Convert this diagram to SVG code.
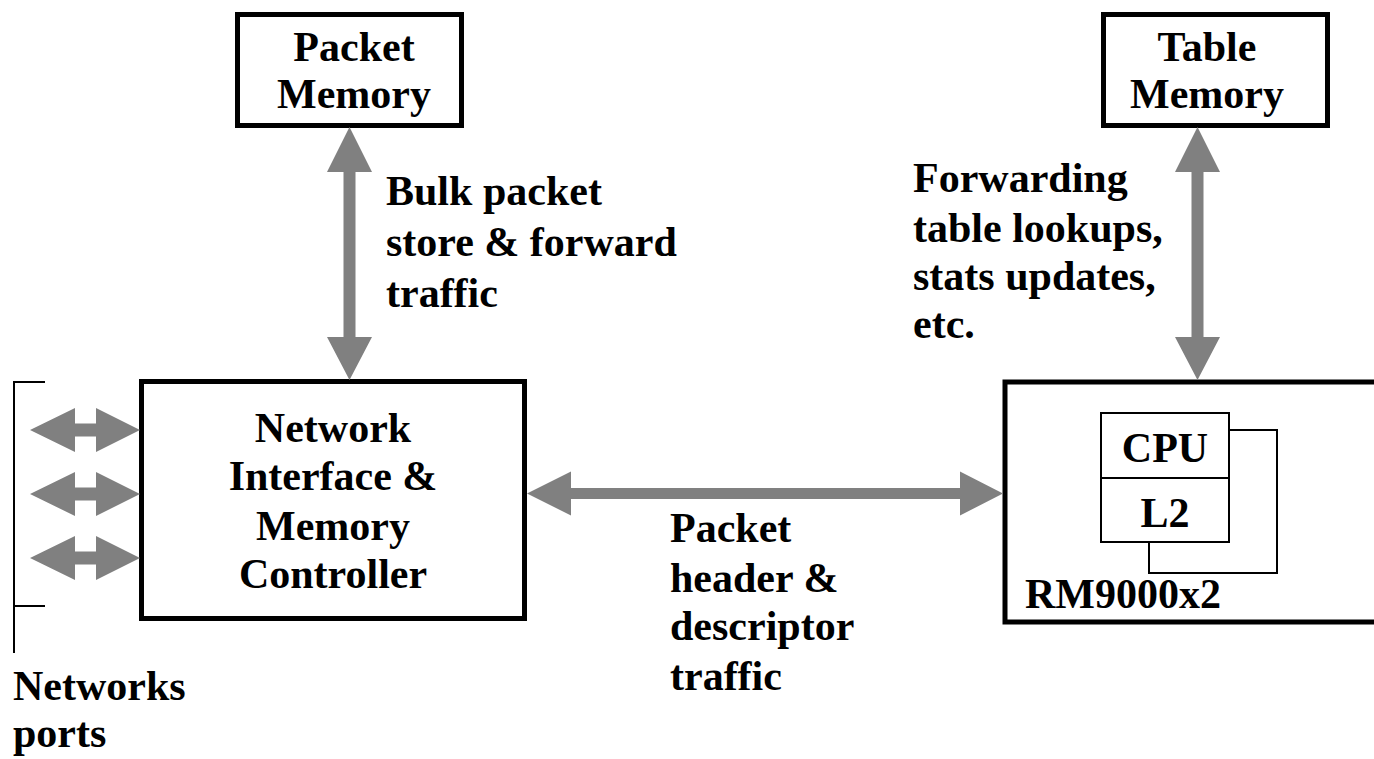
<svg xmlns="http://www.w3.org/2000/svg" width="1374" height="759" viewBox="0 0 1374 759">
<style>
.box{fill:#fff;stroke:#000;stroke-width:5}
.thin{fill:none;stroke:#000;stroke-width:2}
.arr{fill:#808080;stroke:none}
text{font-family:"Liberation Serif","Times New Roman",serif;font-weight:bold;font-size:42px;fill:#000}
.c{text-anchor:middle}
</style>
<rect width="1374" height="759" fill="#fff"/>
<g id="packet-memory">
<rect class="box" x="237.5" y="14.5" width="224" height="111"/>
<text class="c" x="354" y="61">Packet</text>
<text class="c" x="354" y="108">Memory</text>
</g>
<g id="table-memory">
<rect class="box" x="1103.5" y="14.5" width="224" height="111"/>
<text class="c" x="1207" y="61">Table</text>
<text class="c" x="1207" y="108">Memory</text>
</g>
<g id="network-interface">
<rect class="box" x="141.5" y="381.5" width="383" height="237"/>
<text class="c" x="333" y="442">Network</text>
<text class="c" x="333" y="490">Interface &amp;</text>
<text class="c" x="333" y="540">Memory</text>
<text class="c" x="333" y="588">Controller</text>
</g>
<g id="rm9000">
<rect class="box" x="1005" y="382" width="400" height="240"/>
<rect class="thin" x="1101" y="413" width="128" height="129"/>
<line class="thin" x1="1101" y1="478" x2="1229" y2="478"/>
<polyline class="thin" points="1229,430 1277,430 1277,573 1149,573 1149,542"/>
<text class="c" x="1165" y="462">CPU</text>
<text class="c" x="1165" y="527">L2</text>
<text x="1025" y="608">RM9000x2</text>
</g>
<g id="network-ports">
<polyline class="thin" points="45,382 14,382 14,653"/>
<line class="thin" x1="14" y1="606" x2="45" y2="606"/>
<text x="13" y="700">Networks</text>
<text x="13" y="747">ports</text>
</g>
<g id="labels">
<text x="386" y="205">Bulk packet</text>
<text x="386" y="256">store &amp; forward</text>
<text x="386" y="307">traffic</text>
<text x="913" y="192">Forwarding</text>
<text x="913" y="242">table lookups,</text>
<text x="913" y="290">stats updates,</text>
<text x="913" y="338">etc.</text>
<text x="670" y="542">Packet</text>
<text x="670" y="592">header &amp;</text>
<text x="670" y="640">descriptor</text>
<text x="670" y="690">traffic</text>
</g>
<g id="connectors">
<polygon class="arr" points="349.5,127 372,172 355.5,172 355.5,337 372,337 349.5,380 327,337 343.5,337 343.5,172 327,172"/>
<polygon class="arr" points="1197.5,127 1220,172 1203.5,172 1203.5,337 1220,337 1197.5,380 1175,337 1191.5,337 1191.5,172 1175,172"/>
<polygon class="arr" points="527,493.5 571,471.5 571,488 960,488 960,471.5 1003,493.5 960,515.5 960,499 571,499 571,515.5"/>
<polygon class="arr" points="30,430 75,408 75,423.5 96,423.5 96,408 140,430 96,452 96,436.5 75,436.5 75,452"/>
<polygon class="arr" points="30,494 75,472 75,487.5 96,487.5 96,472 140,494 96,516 96,500.5 75,500.5 75,516"/>
<polygon class="arr" points="30,558 75,536 75,551.5 96,551.5 96,536 140,558 96,580 96,564.5 75,564.5 75,580"/>
</g>
</svg>
